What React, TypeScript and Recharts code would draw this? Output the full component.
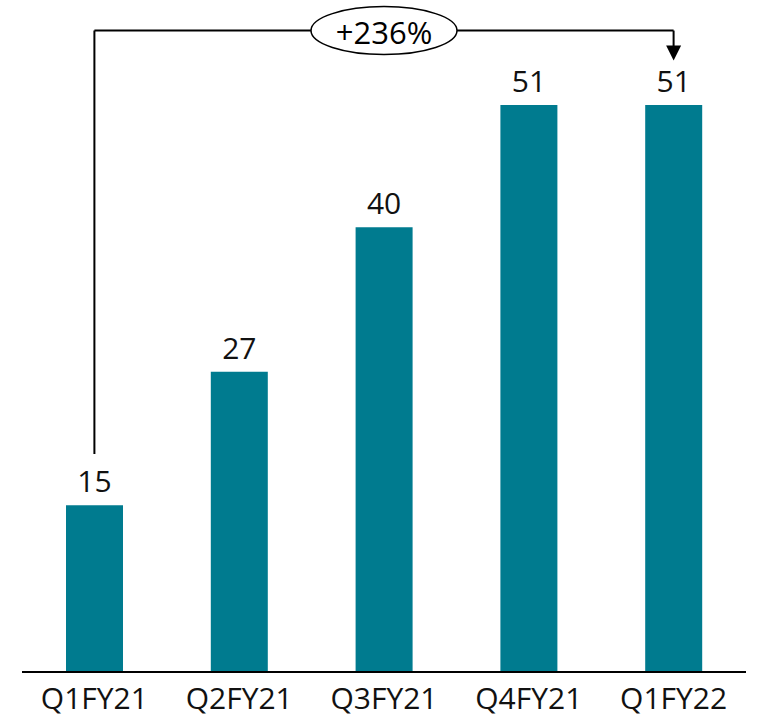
import { BarChart, Bar, XAxis, YAxis, LabelList, ReferenceLine, ReferenceDot } from 'recharts';

const quarters = ['Q1FY21', 'Q2FY21', 'Q3FY21', 'Q4FY21', 'Q1FY22'];
const values = [15, 27, 40, 51, 51];

// annotation bracket (in data units)
const growthLabel = '+236%';
const bracketTop = 57.7;
const bracketStart = 19.6;
const arrowTip = 55.0;

const data = quarters.map((q, i) => ({ name: q, value: values[i] }));

const FONT = '"Open Sans", sans-serif';

const Arrow = ({ cx, cy }: any) => (
  <path d={`M${cx - 7.5},${cy - 15} L${cx + 7.5},${cy - 15} L${cx},${cy} Z`} fill="#000" />
);

const Bubble = ({ cx, cy }: any) => (
  <g>
    <ellipse cx={cx} cy={cy} rx={73} ry={24} fill="#fff" stroke="#000" strokeWidth={1.5} />
    <text x={cx} y={cy + 1} textAnchor="middle" dominantBaseline="central" fontSize={31} fontFamily={FONT} fill="#000">
      {growthLabel}
    </text>
  </g>
);

const App = () => {
  return (
    <div style={{ position: 'absolute', left: 0, top: 0 }}>
      <BarChart
        width={757}
        height={721}
        data={data}
        margin={{ top: 5, right: 11, left: 22, bottom: 0 }}
        barCategoryGap={0}
      >
        <XAxis
          dataKey="name"
          height={49}
          tickLine={false}
          axisLine={{ stroke: '#000', strokeWidth: 2 }}
          tickMargin={10}
          tick={{ fill: '#111', fontSize: 30, fontFamily: FONT }}
          interval={0}
        />
        <YAxis hide domain={[0, 60]} />
        <Bar dataKey="value" fill="#007B8F" barSize={57} isAnimationActive={false}>
          <LabelList
            dataKey="value"
            position="top"
            offset={13}
            fill="#111"
            fontSize={30}
            fontFamily={FONT}
          />
        </Bar>
        <ReferenceLine
          segment={[{ x: quarters[0], y: bracketStart }, { x: quarters[0], y: bracketTop }]}
          stroke="#000"
          strokeWidth={2}
        />
        <ReferenceLine
          segment={[{ x: quarters[0], y: bracketTop }, { x: quarters[4], y: bracketTop }]}
          stroke="#000"
          strokeWidth={2}
        />
        <ReferenceLine
          segment={[{ x: quarters[4], y: bracketTop }, { x: quarters[4], y: arrowTip + 1 }]}
          stroke="#000"
          strokeWidth={2}
        />
        <ReferenceDot x={quarters[4]} y={arrowTip} shape={<Arrow />} />
        <ReferenceDot x={quarters[2]} y={bracketTop} shape={<Bubble />} />
      </BarChart>
    </div>
  );
};

export default App;
